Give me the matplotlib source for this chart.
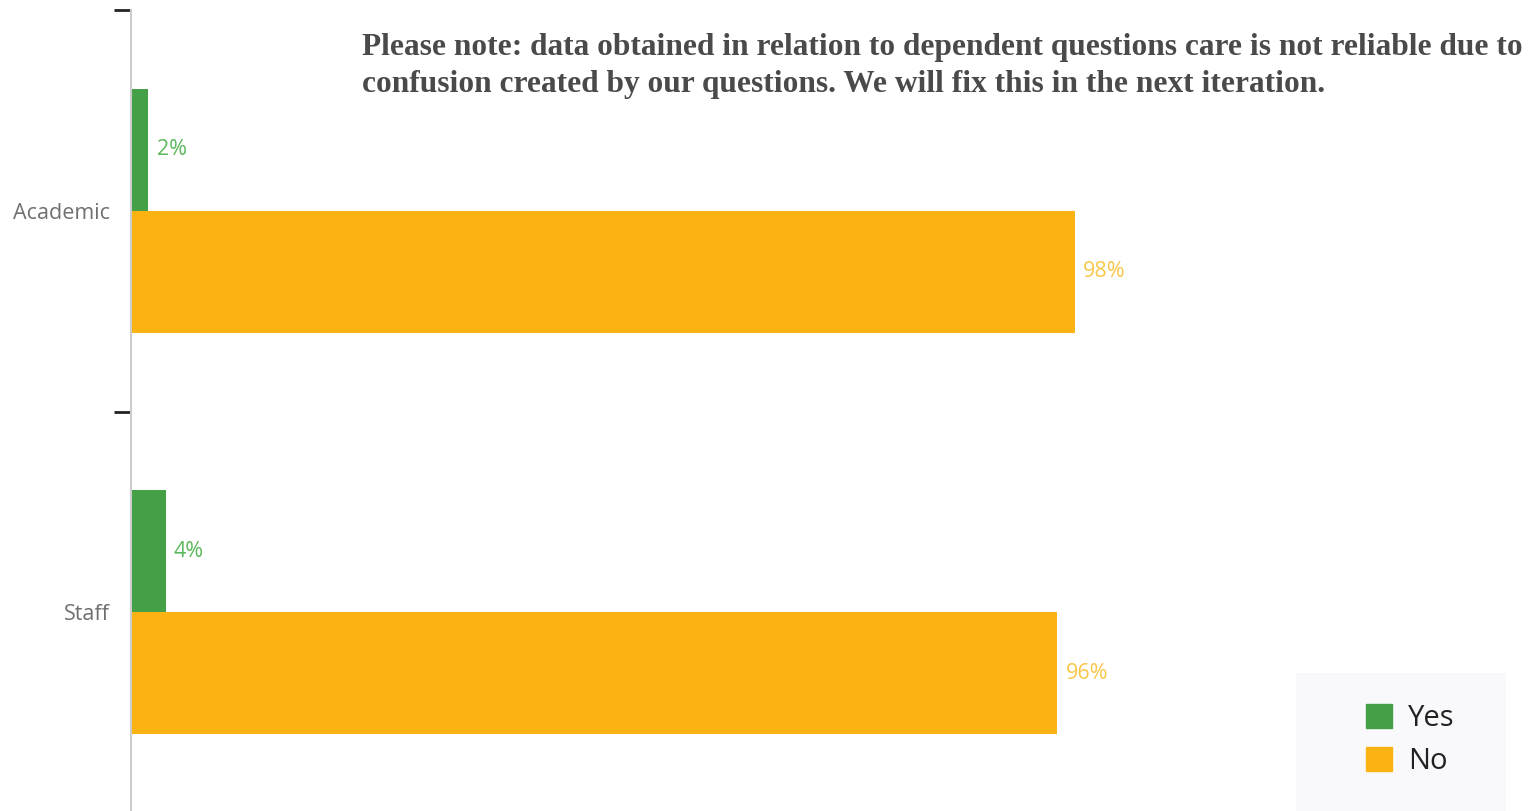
import matplotlib.pyplot as plt
from matplotlib.patches import Patch, Rectangle

# data
categories = ["Academic", "Staff"]
yes_vals = [1.8, 3.6]
no_vals = [98.2, 96.4]
series_names = ["Yes", "No"]

note = ("Please note: data obtained in relation to dependent questions care is not reliable due to\n"
        "confusion created by our questions. We will fix this in the next iteration.")

GREEN = "#43a047"
ORANGE = "#fbb314"
GREEN_TXT = "#5cb85c"
ORANGE_TXT = "#f8c64a"

W, H = 1531, 811
fig = plt.figure(figsize=(W / 100, H / 100), dpi=100)
ax = fig.add_axes([131 / W, -2 / H, (W - 131) / W, 803 / H])

pos = list(range(len(categories)))
bh = 0.304
yes_bars = ax.barh([p - bh / 2 for p in pos], yes_vals, height=bh, color=GREEN)
no_bars = ax.barh([p + bh / 2 for p in pos], no_vals, height=bh, color=ORANGE)

# value labels
for bars, vals, c in [(yes_bars, yes_vals, GREEN_TXT), (no_bars, no_vals, ORANGE_TXT)]:
    ax.bar_label(bars, labels=[f"{v:.0f}%" for v in vals], padding=6,
                 color=c, fontsize=15.5, family="Open Sans")

ax.set_xlim(0, (W - 131) / 9.61)
ax.set_ylim(-0.5, len(categories) - 0.5)
ax.invert_yaxis()

ax.set_yticks(pos)
ax.set_yticklabels(categories, color="#707070", fontsize=15.5, family="Open Sans")
ax.tick_params(axis="y", which="major", length=0, pad=15)
ax.set_yticks([p - 0.5 for p in pos], minor=True)
ax.tick_params(axis="y", which="minor", length=12, width=2, color="#222222")

ax.xaxis.set_visible(False)
for s in ["top", "right", "bottom"]:
    ax.spines[s].set_visible(False)
ax.spines["left"].set_color("#cccccc")
ax.spines["left"].set_linewidth(1.5)

fig.text(362 / W, 1 - 33 / H, note, ha="left", va="top", fontsize=22.6,
         family="Liberation Serif", fontweight="bold", color="#4a4a4a",
         linespacing=1.36)

# legend box
fig.patches.append(Rectangle((1296 / W, 0), 210 / W, 138 / H, transform=fig.transFigure,
                             facecolor="#f9f9fc", edgecolor="none", zorder=0))
handles = [Patch(color=GREEN), Patch(color=ORANGE)]
leg = fig.legend(handles, series_names, loc="upper left",
                 bbox_to_anchor=(1366 / W, 1 - 704 / H), frameon=False,
                 prop={"family": "Open Sans", "size": 21},
                 handlelength=0.9, handleheight=0.9, handletextpad=0.55,
                 labelspacing=0.48, borderpad=0, borderaxespad=0)
for t in leg.get_texts():
    t.set_color("#222222")

fig.savefig("out.png", dpi=100)
